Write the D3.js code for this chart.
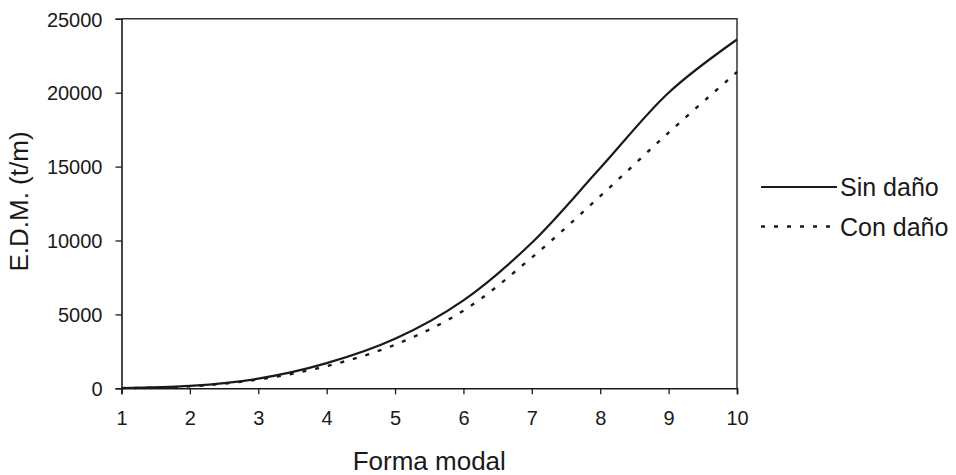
<!DOCTYPE html>
<html>
<head>
<meta charset="utf-8">
<script src="https://cdn.jsdelivr.net/npm/d3@7"></script>
<style>
  html, body { margin: 0; padding: 0; background: #fff; }
  svg { display: block; font-family: Arial, "Liberation Sans", sans-serif; }
</style>
</head>
<body>
<svg id="chart" width="956" height="475"></svg>
<script>
// ---- data ----
const modes = [1, 2, 3, 4, 5, 6, 7, 8, 9, 10];
const sinDano = [20, 160, 650, 1700, 3350, 5950, 9850, 14900, 20000, 23600];
const conDano = [15, 130, 600, 1500, 2950, 5250, 8850, 13000, 17300, 21400];
const yTicks = [0, 5000, 10000, 15000, 20000, 25000];
const xTicks = [1, 2, 3, 4, 5, 6, 7, 8, 9, 10];
const seriesNames = ["Sin daño", "Con daño"];

const svg = d3.select("#chart");
const ink = "#1a1a1a";

const x = d3.scaleLinear().domain([1, 10]).range([121.5, 737]);
const y = d3.scaleLinear().domain([0, 25000]).range([388.3, 18.8]);

// frame (top & right)
svg.append("path")
  .attr("d", `M${x(1)},${y(25000)}H${x(10)}V${y(0)}`)
  .attr("fill", "none").attr("stroke", "#333").attr("stroke-width", 1.5);

// y axis
const yAxis = svg.append("g")
  .attr("transform", `translate(${x(1)},0)`)
  .call(d3.axisLeft(y).tickValues(yTicks).tickSize(6).tickPadding(13).tickFormat(d3.format("d")));
// x axis
const xAxis = svg.append("g")
  .attr("transform", `translate(0,${y(0)})`)
  .call(d3.axisBottom(x).tickValues(xTicks).tickSize(6).tickPadding(17).tickFormat(d3.format("d")));

[yAxis, xAxis].forEach(g => {
  g.select(".domain").attr("stroke", ink).attr("stroke-width", 1.6);
  g.selectAll(".tick line").attr("stroke", ink).attr("stroke-width", 1.3);
  g.selectAll(".tick text").attr("fill", ink).style("font-size", "20px")
    .style("font-family", "Arial, 'Liberation Sans', sans-serif");
});
yAxis.selectAll(".tick text").attr("dy", "0.36em");

// lines
const line = d3.line()
  .x((d, i) => x(modes[i]))
  .y(d => y(d))
  .curve(d3.curveCatmullRom.alpha(0.5));

svg.append("path").datum(sinDano)
  .attr("d", line).attr("fill", "none")
  .attr("stroke", ink).attr("stroke-width", 2.2);

svg.append("path").datum(conDano)
  .attr("d", line).attr("fill", "none")
  .attr("stroke", ink).attr("stroke-width", 2.4)
  .attr("stroke-dasharray", "4,9");

// axis titles
svg.append("text")
  .attr("x", (x(1) + x(10)) / 2).attr("y", 470)
  .attr("text-anchor", "middle").attr("fill", ink)
  .style("font-size", "26px").text("Forma modal");

svg.append("text")
  .attr("transform", `translate(28,${201.5}) rotate(-90)`)
  .attr("text-anchor", "middle").attr("fill", ink)
  .style("font-size", "26px").text("E.D.M. (t/m)");

// legend
const legend = svg.append("g");
const legY = [187, 226.5];
seriesNames.forEach((name, i) => {
  legend.append("line")
    .attr("x1", 761).attr("x2", 837)
    .attr("y1", legY[i]).attr("y2", legY[i])
    .attr("stroke", ink).attr("stroke-width", i === 0 ? 2.2 : 2.4)
    .attr("stroke-dasharray", i === 0 ? null : "4,9");
  legend.append("text")
    .attr("x", 840).attr("y", legY[i] + 9)
    .attr("fill", ink).style("font-size", "25px")
    .text(name);
});
</script>
</body>
</html>
